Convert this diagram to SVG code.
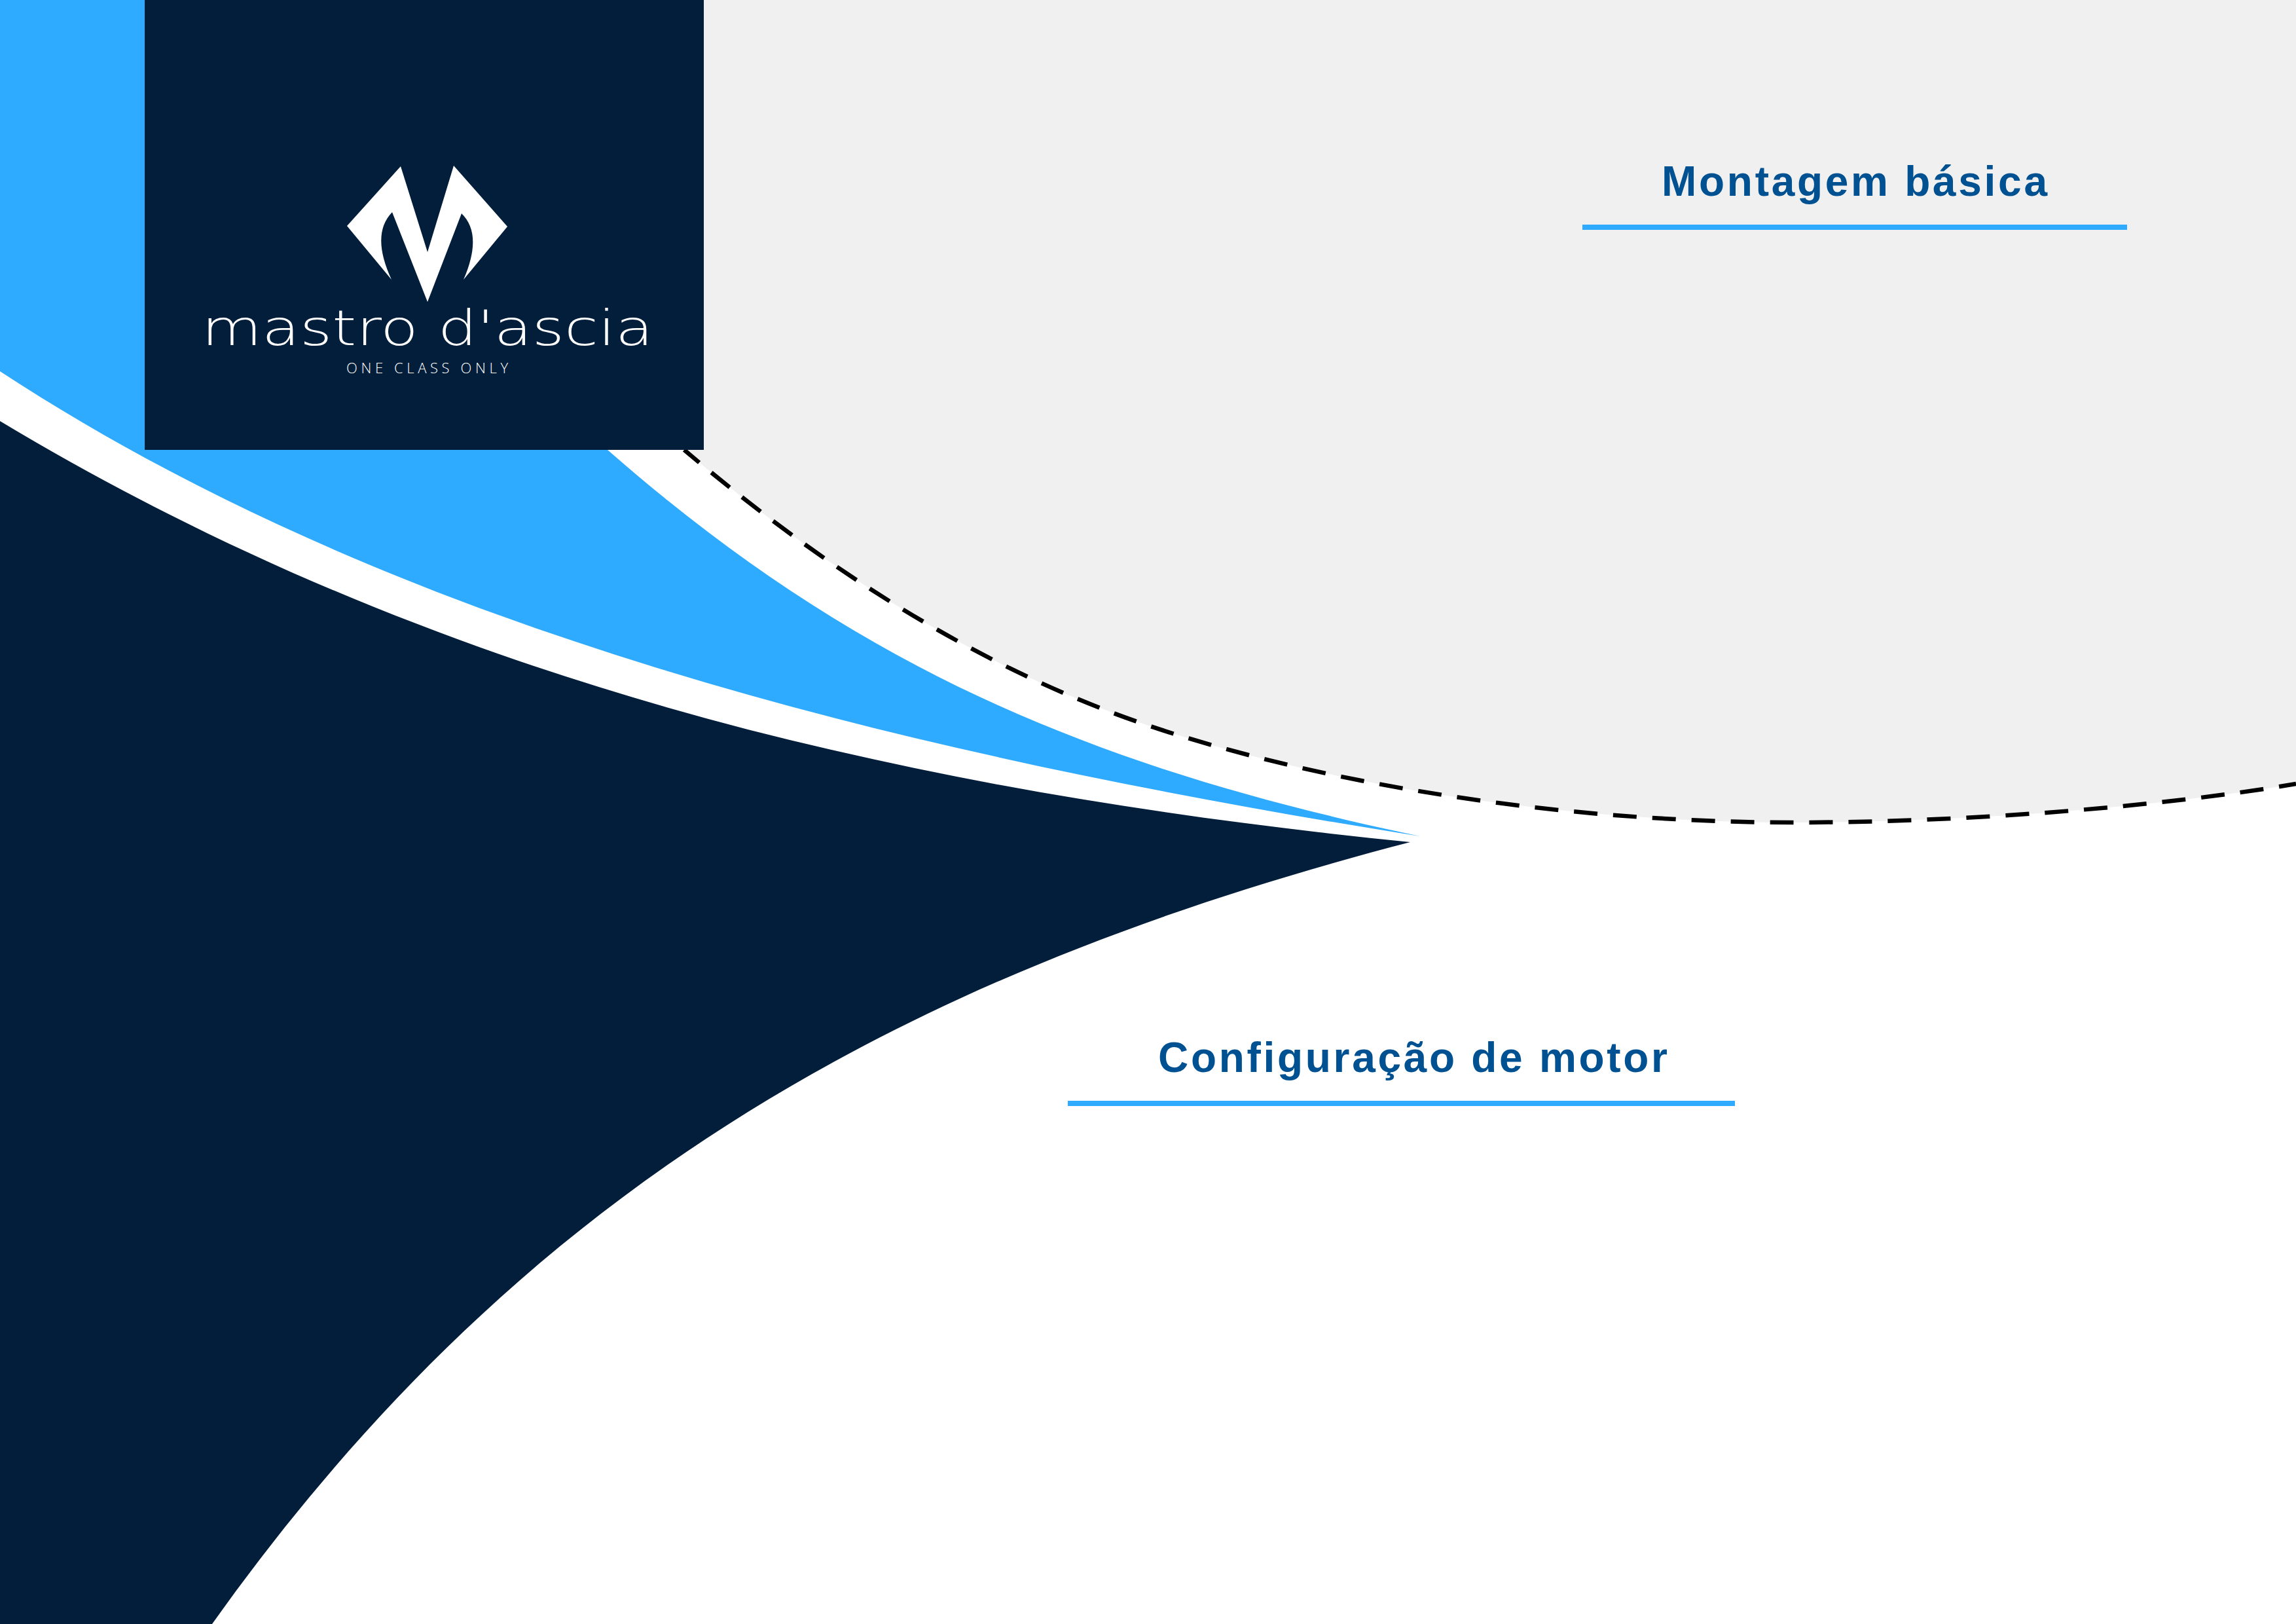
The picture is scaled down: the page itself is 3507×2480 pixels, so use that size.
<svg xmlns="http://www.w3.org/2000/svg" width="3507" height="2480" viewBox="0 0 3507 2480">
<style>
.navy{fill:#021e3b}
.blue{fill:#2eaaff}
.head{font-family:"Liberation Sans",Arial,sans-serif;font-weight:700;font-size:64px;fill:#005191}
.word{font-family:"DejaVu Sans",sans-serif;font-weight:200;font-size:75px;fill:#fff}
.tag{font-family:"Open Sans","Noto Sans",sans-serif;font-weight:300;font-size:22px;fill:#fff}
</style>
<rect width="3507" height="2480" fill="#fff"/>
<g id="background">
<path id="grey-panel" fill="#f0f0f0" d="M1045 687C1295 899 1541 1042 1791 1120C2100 1216 2450 1256 2739 1256C3000 1256 3300 1232 3507 1197V0H1045Z"/>
<path id="dash-curve" fill="none" stroke="#000" stroke-width="6.5" stroke-dasharray="36 24" stroke-dashoffset="6" d="M1045 687C1295 899 1541 1042 1791 1120C2100 1216 2450 1256 2739 1256C3000 1256 3300 1232 3507 1197"/>
<path id="blue-swoosh" class="blue" d="M0 0H1075V687H928C1308 1020 1669 1172 2169 1277C1369 1150 600 960 0 567Z"/>
<path id="navy-swoosh" class="navy" d="M0 643C650 1033 1354 1206 2154 1286C1354 1494 788 1828 324 2480H0Z"/>
</g>
<g id="logo">
<rect class="navy" x="221" y="0" width="854" height="687"/>
<path fill="#fff" d="M612 254L653 385L693 253L775 346L708 427Q738 358 705 326L653 461L599 324Q566 358 598 427L530 345Z"/>
<text class="word" x="308" y="527" textLength="690" lengthAdjust="spacingAndGlyphs">mastro d'ascia</text>
<text class="tag" x="529" y="570" textLength="247" lengthAdjust="spacing">ONE CLASS ONLY</text>
</g>
<g id="heading-montagem">
<text class="head" x="2538" y="299" textLength="589" lengthAdjust="spacing">Montagem básica</text>
<rect class="blue" x="2417" y="343" width="832" height="8"/>
</g>
<g id="heading-configuracao">
<text class="head" x="1769" y="1637" textLength="778" lengthAdjust="spacing">Configuração de motor</text>
<rect class="blue" x="1631" y="1681" width="1019" height="8"/>
</g>
</svg>
